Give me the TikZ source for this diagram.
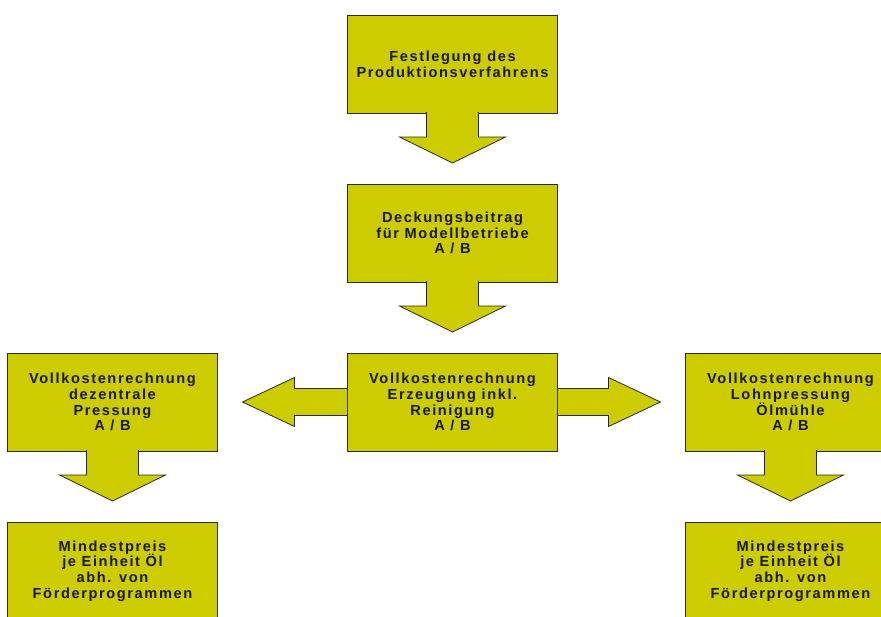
\documentclass[tikz,border=0pt]{standalone}
\usepackage{fontspec}
\usepackage{xcolor}
\usepackage{tikz}
\usetikzlibrary{positioning,calc,backgrounds}
\newfontfamily\boxfont[LetterSpace=11]{Liberation Sans}
\definecolor{olivey}{HTML}{CCCC00}
\definecolor{edge}{HTML}{2A2A20}

\begin{document}
\begin{tikzpicture}[x=1pt,y=-1pt,
    font=\boxfont\bfseries\fontsize{14.6}{15.8}\selectfont,
    box/.style={draw=edge,line width=0.8pt,fill=olivey,minimum width=210pt,minimum height=98pt,
      inner sep=0pt,outer sep=0pt,align=center,text=black!90},
    fat/.style={draw=edge,line width=0.8pt,fill=olivey}]
  \useasboundingbox (0,0) rectangle (881,616);
  \node[box] (fest) at (452.5,64) {Festlegung des\\Produktionsverfahrens};
  \node[box,below=71pt of fest] (deck) {Deckungsbeitrag\\für Modellbetriebe\\A / B};
  \node[box,below=71pt of deck] (ctr) {Vollkostenrechnung\\Erzeugung inkl.\\Reinigung\\A / B};
  \node[box,left=130pt of ctr] (lft) {Vollkostenrechnung\\dezentrale\\Pressung\\A / B};
  \node[box,right=128pt of ctr] (rgt) {Vollkostenrechnung\\Lohnpressung\\Ölmühle\\A / B};
  \node[box,below=71pt of lft] (lbot) {Mindestpreis\\je Einheit Öl\\abh. von\\Förderprogrammen};
  \node[box,below=71pt of rgt] (rbot) {Mindestpreis\\je Einheit Öl\\abh. von\\Förderprogrammen};

  \foreach \src in {fest,deck,lft,rgt}
    \filldraw[fat] ($(\src.south)+(-26,-1)$) -- ++(0,25) -- ++(-27,0) -- ++(53,26)
      -- ++(53,-26) -- ++(-27,0) -- ++(0,-25);

  \begin{scope}[on background layer]
    \coordinate (ltip) at ($(ctr.west)+(-105,0)$);
    \coordinate (rtip) at ($(ctr.east)+(103,0)$);
    \filldraw[fat] (ltip) -- ++(52,-24.5) -- ++(0,11) -- ($(rtip)+(-52,-13.5)$) -- ++(0,-11)
      -- (rtip) -- ++(-52,24.5) -- ++(0,-11) -- ($(ltip)+(52,13.5)$) -- ++(0,11) -- cycle;
  \end{scope}
\end{tikzpicture}
\end{document}
